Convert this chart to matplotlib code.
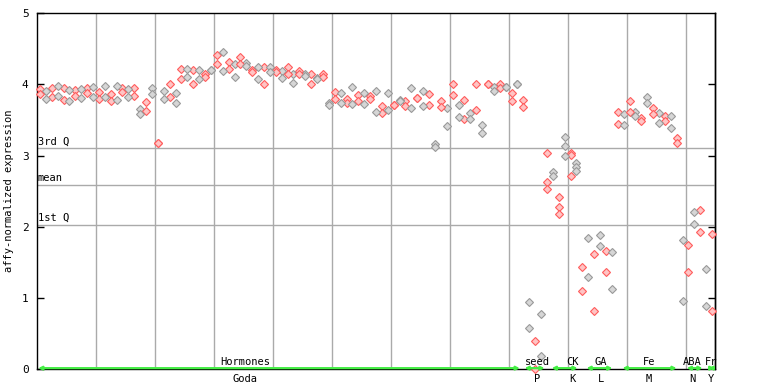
import numpy as np
import matplotlib
matplotlib.use('Agg')
import matplotlib.pyplot as plt
import matplotlib.transforms as mtransforms

# replicate values per sample (nan = no third replicate)
rep1 = [3.93, 3.91, 3.95, 3.98, 3.95, 3.92, 3.92, 3.94, 3.95, 3.97,
        3.90, 3.98, 3.87, 3.98, 3.95, 3.94, 3.95, 3.66, 3.76, 3.95,
        3.17, 3.91, 4.00, 3.88, 4.22, 4.22, 4.21, 4.21, 4.15, 4.21,
        4.42, 4.45, 4.32, 4.29, 4.39, 4.30, 4.21, 4.25, 4.25, 4.25,
        4.21, 4.19, 4.24, 4.14, 4.19, 4.15, 4.14, 4.09, 4.15, 3.74,
        3.90, 3.88, 3.80, 3.97, 3.85, 3.88, 3.84, 3.91, 3.70, 3.88,
        3.71, 3.78, 3.77, 3.95, 3.81, 3.91, 3.87, 3.16, 3.77, 3.67,
        4.00, 3.71, 3.78, 3.60, 4.00, 3.43, 4.01, 3.97, 4.00, 3.97,
        3.88, 4.01, 3.78, 0.94, 0.39, 0.77, 3.04, 2.77, 2.42, 3.26,
        3.04, 2.89, 1.43, 1.84, 1.62, 1.89, 1.66, 1.64, 3.61, 3.59,
        3.77, 3.61, 3.53, 3.82, 3.67, 3.60, 3.56, 3.56, 3.25, 1.82,
        1.75, 2.21, 2.23, 1.41, 1.90]
rep2 = [3.87, 3.79, 3.82, 3.84, 3.78, 3.77, 3.84, 3.81, 3.88, 3.83,
        3.79, 3.83, 3.77, 3.78, 3.90, 3.83, 3.84, 3.59, 3.63, 3.87,
        3.17, 3.79, 3.83, 3.74, 4.08, 4.11, 4.00, 4.07, 4.11, 4.21,
        4.29, 4.19, 4.22, 4.11, 4.29, 4.26, 4.18, 4.08, 4.01, 4.18,
        4.18, 4.09, 4.15, 4.02, 4.14, 4.12, 4.01, 4.07, 4.11, 3.71,
        3.80, 3.74, 3.74, 3.73, 3.77, 3.73, 3.80, 3.61, 3.60, 3.64,
        3.71, 3.77, 3.70, 3.67, 3.81, 3.70, 3.71, 3.12, 3.68, 3.42,
        3.85, 3.54, 3.52, 3.52, 3.64, 3.32, 4.01, 3.91, 3.95, 3.97,
        3.77, 4.01, 3.68, 0.57, 0.00, 0.18, 2.63, 2.71, 2.28, 3.13,
        3.01, 2.84, 1.10, 1.29, 0.81, 1.73, 1.37, 1.12, 3.45, 3.43,
        3.61, 3.56, 3.49, 3.74, 3.59, 3.46, 3.49, 3.39, 3.17, 0.95,
        1.36, 2.04, 1.92, 0.89, 0.82]
rep3 = [np.nan] * 86 + [2.53, np.nan, 2.18, 2.99, 2.71, 2.78] + [np.nan] * 23

# quartile lines
q_names = ['3rd Q', 'mean', '1st Q']
q_values = [3.10, 2.58, 2.03]

# experiment groups along the bottom
groups = ['Hormones', 'seed', 'CK', 'GA', 'Fe', 'ABA', 'Fr']
sub_labels = ['Goda', 'P', 'K', 'L', 'M', 'N', 'Y']
group_start = [0.2, 82.7, 87.3, 93.2, 99.3, 110.2, 113.9]
group_end = [81.9, 86.1, 91.7, 97.6, 108.5, 112.9, 114.9]
label_pos = [35.3, 84.8, 90.8, 95.7, 103.8, 111.1, 114.3]

n = len(rep1)
xs = np.arange(n) + 0.5
mono = 'DejaVu Sans Mono'

fig = plt.figure(figsize=(7.68, 3.84), dpi=100)
ax = fig.add_axes([37/768, 1-369/384, 678/768, 355.7/384])
ax.set_xlim(0, n)
ax.set_ylim(0, 5)

for gx in range(10, n, 10):
    ax.axvline(gx, color='#aaaaaa', lw=1, zorder=1)
for name, q in zip(q_names, q_values):
    ax.axhline(q, color='#aaaaaa', lw=1, zorder=1)
    ax.text(0.1, q + 0.03, name, family=mono, fontsize=7.5, va='bottom', ha='left')

red = [i % 2 == 0 for i in range(n)]
for rep in (rep1, rep2, rep3):
    rep = np.array(rep)
    for flag, ec, fc in ((True, '#ff5c5c', '#ffc4c4'), (False, '#999999', '#d6d6d6')):
        m = np.array(red) == flag
        ax.plot(xs[m], rep[m], 'D', ms=3.6, mec=ec, mfc=fc, mew=0.8, zorder=3,
                clip_on=False)

# green group arrows and labels
trans = mtransforms.blended_transform_factory(ax.transData, ax.transAxes)
for g, sub, s, e, p in zip(groups, sub_labels, group_start, group_end, label_pos):
    ax.annotate('', xy=(e, 0.012), xytext=(s, 0.012),
                arrowprops=dict(arrowstyle='<|-|>', color='#44ee44', lw=1.6,
                                shrinkA=0, shrinkB=0, mutation_scale=5),
                annotation_clip=False, zorder=4)
    ax.text(p, 0.03, g, family=mono, fontsize=7.5, ha='center', va='bottom', zorder=5)
    ax.text(p, -0.015, sub, transform=trans, family=mono, fontsize=7.5,
            ha='center', va='top')

ax.set_xticks([])
ax.set_yticks([0, 1, 2, 3, 4, 5])
ax.tick_params(axis='y', direction='in', length=5, width=1, pad=6, labelsize=8)
for lab in ax.get_yticklabels():
    lab.set_family(mono)
sec = ax.secondary_yaxis('right')
sec.set_yticks([1, 2, 3, 4])
sec.tick_params(direction='in', length=5, width=1, labelright=False)
sec.spines['right'].set_linewidth(1)
for sp in ax.spines.values():
    sp.set_linewidth(1)
    sp.set_color('black')

ax.set_ylabel('affy-normalized expression', family=mono, fontsize=7.5, labelpad=6)

fig.savefig('out.png', dpi=100)
